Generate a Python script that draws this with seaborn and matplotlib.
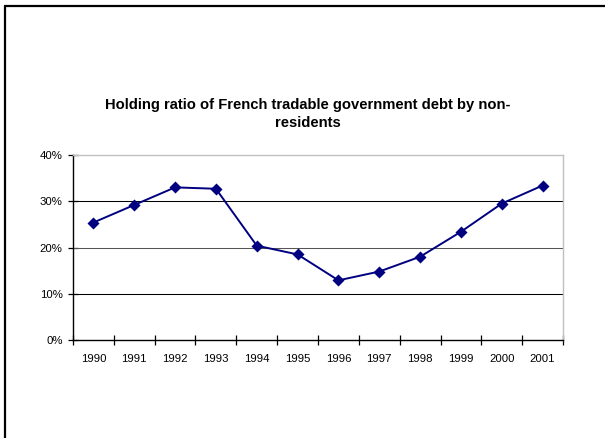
import pandas as pd
import numpy as np
import matplotlib
matplotlib.use("Agg")
import matplotlib.pyplot as plt
from matplotlib.lines import Line2D
from matplotlib.ticker import PercentFormatter, FixedLocator
import seaborn as sns

years = ["1990", "1991", "1992", "1993", "1994", "1995",
         "1996", "1997", "1998", "1999", "2000", "2001"]
ratio = [0.254, 0.292, 0.330, 0.327, 0.204, 0.185,
         0.129, 0.148, 0.180, 0.234, 0.295, 0.334]
yticks = [0.0, 0.1, 0.2, 0.3, 0.4]

df = pd.DataFrame({"year": years, "ratio": ratio})

sns.set_style("white")
plt.rcParams["font.family"] = ["Liberation Sans", "DejaVu Sans"]
plt.rcParams["text.color"] = "black"

fig = plt.figure(figsize=(6.05, 4.38), dpi=100)
ax = fig.add_axes([73 / 605, 1 - 340 / 438, 490 / 605, 185 / 438])

sns.pointplot(data=df, x="year", y="ratio", color="#000080", markers="D",
              linestyles="-", markersize=5.5, linewidth=1.4, errorbar=None, ax=ax)

ax.set_ylim(0, 0.4)
ax.set_xlim(-0.5, len(years) - 0.5)
ax.set_xlabel("")
ax.set_ylabel("")

# gridlines like the spreadsheet chart
for v in yticks[1:-1]:
    ax.axhline(v, color="#555555" if v == 0.2 else "black", lw=0.75, zorder=1)

ax.yaxis.set_major_locator(FixedLocator(yticks))
ax.yaxis.set_major_formatter(PercentFormatter(1.0, decimals=0))
ax.xaxis.set_minor_locator(FixedLocator(np.arange(-0.5, len(years), 1.0)))
ax.tick_params(axis="x", which="major", length=0, pad=10, labelsize=8.2, colors="black")
ax.tick_params(axis="x", which="minor", length=7, width=0.9, direction="inout",
               bottom=True, color="black")
ax.tick_params(axis="y", length=7, width=0.9, direction="inout", left=True,
               pad=4, labelsize=8.2, colors="black")

for s in ["left", "bottom"]:
    ax.spines[s].set_color("black")
    ax.spines[s].set_linewidth(1.0)
for s in ["top", "right"]:
    ax.spines[s].set_color("#c0c0c0")
    ax.spines[s].set_linewidth(1.0)

fig.text(308 / 605, 1 - 114 / 438,
         "Holding ratio of French tradable government debt by non-\nresidents",
         ha="center", va="center", fontsize=10.6, fontweight="bold",
         linespacing=1.4, color="black")

# frame edges of the surrounding box
fig.add_artist(Line2D([5 / 605, 5 / 605], [0, 1 - 6 / 438], color="black",
                      lw=1.6, transform=fig.transFigure))
fig.add_artist(Line2D([5 / 605, 1], [1 - 6 / 438, 1 - 6 / 438], color="black",
                      lw=1.6, transform=fig.transFigure))

fig.savefig("out.png", dpi=100)
